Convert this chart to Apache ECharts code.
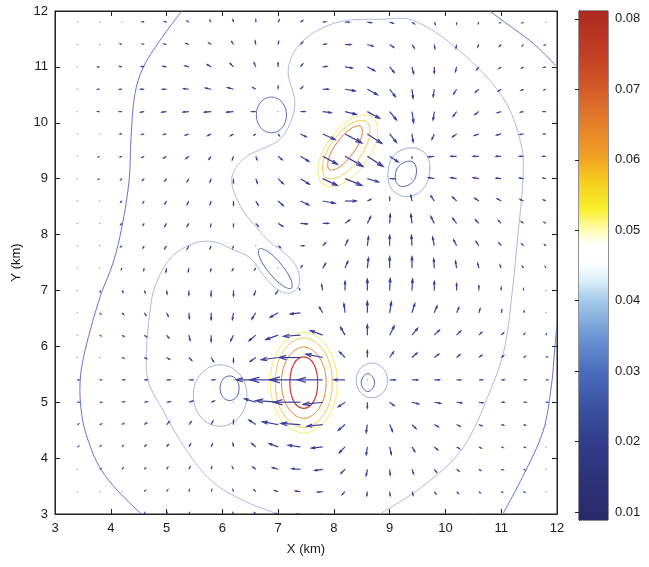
<!DOCTYPE html>
<html><head><meta charset="utf-8">
<script src="https://cdn.jsdelivr.net/npm/echarts@6/dist/echarts.min.js"></script>
<style>html,body{margin:0;padding:0;background:#fff}#c{width:649px;height:567px}</style>
</head><body><div id="c"></div>
<script>
// ---------- data ----------
const xTicks = [3,4,5,6,7,8,9,10,11,12];
const yTicks = [3,4,5,6,7,8,9,10,11,12];
const cbTicks = [0.01,0.02,0.03,0.04,0.05,0.06,0.07,0.08];
const cbMin = 0.0089, cbMax = 0.0811;
const cmapValues = [0.0089,0.015,0.02,0.025,0.03,0.035,0.04,0.043,0.0455,0.048,0.0505,0.053,0.057,0.06,0.065,0.07,0.075,0.0811];
const cmapColors = ['#29296a','#2c3379','#323e8b','#3c52a2','#4b6dbd','#6d95d3','#a3c9ea','#def0f9','#ffffff','#ffffff','#fffb9e','#f9ef2a','#f6cd1f','#f0a522','#e5802a','#d45a28','#c23e24','#ad2920'];

const xCols = [3.4,3.8,4.2,4.6,5.0,5.4,5.8,6.2,6.6,7.0,7.4,7.8,8.2,8.6,9.0,9.4,9.8,10.2,10.6,11.0,11.4,11.8];
const yRows = [11.8,11.4,11.0,10.6,10.2,9.8,9.4,9.0,8.6,8.2,7.8,7.4,7.0,6.6,6.2,5.8,5.4,5.0,4.6,4.2,3.8,3.4,3.0];
const U = [
[-0.02,-0.02,-0.02,-0.03,-0.03,-0.03,-0.02,-0.01,0,0.02,0.04,0.05,0.07,0.07,0.06,0.04,0.02,0,-0.01,-0.02,-0.02,-0.02],
[-0.02,-0.02,-0.03,-0.03,-0.04,-0.05,-0.04,-0.03,-0.01,0.01,0.04,0.06,0.1,0.1,0.07,0.04,0.01,-0.01,-0.02,-0.03,-0.02,-0.02],
[-0.02,-0.03,-0.04,-0.05,-0.06,-0.07,-0.07,-0.06,-0.03,0.0,0.04,0.07,0.13,0.13,0.08,0.03,0,-0.02,-0.04,-0.04,-0.03,-0.03],
[-0.02,-0.03,-0.04,-0.06,-0.07,-0.09,-0.1,-0.1,-0.05,0.0,0.04,0.1,0.18,0.18,0.1,0.02,-0.02,-0.05,-0.06,-0.05,-0.04,-0.03],
[-0.02,-0.03,-0.04,-0.06,-0.08,-0.1,-0.12,-0.12,-0.07,0.0,0.08,0.15,0.2,0.22,0.12,0.03,-0.02,-0.06,-0.07,-0.07,-0.05,-0.04],
[-0.02,-0.02,-0.03,-0.04,-0.05,-0.06,-0.06,-0.05,-0.03,0.02,0.1,0.22,0.3,0.26,0.12,0.02,-0.04,-0.07,-0.08,-0.08,-0.06,-0.04],
[-0.02,-0.02,-0.03,-0.04,-0.05,-0.05,-0.04,-0.02,0.02,0.07,0.15,0.26,0.32,0.28,0.15,0.0,-0.1,-0.1,-0.1,-0.09,-0.07,-0.05],
[-0.01,-0.02,-0.02,-0.03,-0.03,-0.03,-0.02,0.0,0.03,0.09,0.16,0.26,0.3,0.2,0.08,0.0,-0.1,-0.1,-0.1,-0.09,-0.07,-0.05],
[-0.01,-0.01,-0.02,-0.02,-0.03,-0.03,-0.02,0.0,0.04,0.09,0.15,0.22,0.2,0.06,0.0,-0.02,-0.06,-0.07,-0.07,-0.07,-0.06,-0.04],
[-0.01,-0.01,-0.02,-0.02,-0.03,-0.03,-0.01,0.0,0.04,0.08,0.12,0.1,0.08,0.06,0.01,-0.02,-0.06,-0.07,-0.06,-0.05,-0.04,-0.03],
[-0.01,-0.01,-0.02,-0.02,-0.03,-0.03,-0.02,-0.01,0.0,0.04,0.06,0.05,0.05,0.02,0.0,-0.01,-0.03,-0.05,-0.05,-0.04,-0.03,-0.02],
[-0.01,-0.01,-0.01,-0.01,-0.01,-0.01,-0.01,-0.02,-0.02,0,0.03,0.05,0.05,0.02,0,0,-0.01,-0.02,-0.02,-0.02,-0.02,-0.01],
[0.01,0.01,0.02,0.02,0.01,0,0,0,-0.03,-0.04,-0.02,-0.02,0,0,0.01,0.01,0,0,0,0,0,0],
[0.01,0.02,0.03,0.03,0.03,0.01,0,-0.02,-0.07,-0.14,-0.18,-0.06,-0.02,0,0.03,0.05,0.05,0.04,0.02,0.01,0.01,0],
[0.01,0.02,0.03,0.04,0.04,0.02,0,-0.05,-0.12,-0.22,-0.3,-0.22,-0.08,0,0.08,0.1,0.09,0.07,0.05,0.04,0.02,0.01],
[0.02,0.02,0.03,0.04,0.05,0.05,0.04,0,-0.1,-0.3,-0.38,-0.3,-0.1,0,0.07,0.09,0.08,0.06,0.05,0.04,0.03,0.02],
[0.03,0.03,0.04,0.05,0.06,0.07,0.06,0,-0.35,-0.5,-0.55,-0.45,-0.2,0,0.1,0.1,0.09,0.07,0.06,0.05,0.04,0.03],
[0.03,0.03,0.04,0.05,0.06,0.07,0.05,0,-0.2,-0.4,-0.48,-0.35,-0.12,0,0.08,0.12,0.11,0.09,0.07,0.05,0.04,0.03],
[0.02,0.03,0.03,0.04,0.05,0.04,0.03,0,-0.12,-0.28,-0.35,-0.28,-0.12,-0.02,0.05,0.07,0.07,0.06,0.05,0.04,0.03,0.02],
[0.02,0.02,0.02,0.03,0.03,0.03,0.02,-0.01,-0.07,-0.16,-0.22,-0.2,-0.1,-0.02,0.03,0.05,0.06,0.05,0.04,0.03,0.03,0.02],
[0.01,0.02,0.02,0.02,0.02,0.02,0.01,-0.02,-0.05,-0.1,-0.15,-0.14,-0.07,-0.02,0.01,0.03,0.04,0.04,0.03,0.03,0.02,0.02],
[0.01,0.01,0.01,0.02,0.02,0.01,0.01,-0.01,-0.03,-0.06,-0.09,-0.09,-0.05,-0.01,0.01,0.02,0.03,0.03,0.02,0.02,0.02,0.01],
[0.01,0.01,0.01,0.01,0.01,0.01,0,-0.01,-0.02,-0.04,-0.06,-0.06,-0.03,-0.01,0,0.01,0.02,0.02,0.02,0.01,0.01,0.01]
];
const V = [
[0,0,0,0.01,0.01,0.02,0.03,0.04,0.04,0.04,0.03,0.01,0,-0.01,-0.02,-0.03,-0.04,-0.03,-0.02,-0.01,-0.01,0],
[0,0,0.01,0.01,0.01,0.02,0.03,0.05,0.06,0.05,0.04,0.01,0,-0.03,-0.05,-0.06,-0.07,-0.06,-0.04,-0.03,-0.02,-0.01],
[0,0,0.01,0.01,0.01,0.02,0.04,0.06,0.07,0.07,0.05,0.01,-0.02,-0.07,-0.1,-0.12,-0.11,-0.08,-0.05,-0.03,-0.02,-0.01],
[0,0,0,0,0,0.01,0.02,0.03,0.03,0.05,0.04,0,-0.03,-0.1,-0.13,-0.16,-0.13,-0.08,-0.05,-0.03,-0.02,-0.01],
[0,0,0,-0.01,-0.01,-0.01,-0.01,-0.01,0,0,0,-0.02,-0.05,-0.12,-0.15,-0.2,-0.15,-0.08,-0.05,-0.02,-0.01,0],
[0,0,0,-0.01,-0.01,-0.02,-0.03,-0.03,-0.02,-0.03,-0.05,-0.1,-0.16,-0.17,-0.15,-0.14,-0.09,-0.05,-0.03,-0.02,-0.01,0],
[0,-0.01,-0.01,-0.02,-0.03,-0.04,-0.05,-0.06,-0.06,-0.06,-0.09,-0.14,-0.18,-0.18,-0.1,-0.03,-0.01,0,0,0,0,0],
[-0.01,-0.01,-0.02,-0.03,-0.04,-0.05,-0.06,-0.07,-0.08,-0.09,-0.1,-0.12,-0.12,-0.06,0.0,0.0,0.02,0.02,0.02,0.01,0.01,0.01],
[-0.01,-0.01,-0.02,-0.03,-0.05,-0.06,-0.06,-0.07,-0.07,-0.08,-0.07,-0.04,0.0,0.03,0.06,0.1,0.09,0.07,0.05,0.04,0.03,0.02],
[-0.01,-0.01,-0.02,-0.03,-0.05,-0.05,-0.05,-0.05,-0.05,-0.05,-0.01,0,0.06,0.12,0.16,0.16,0.12,0.09,0.06,0.05,0.03,0.02],
[-0.01,-0.01,-0.02,-0.04,-0.05,-0.06,-0.05,-0.04,-0.02,-0.03,0,0.05,0.1,0.16,0.18,0.18,0.15,0.1,0.07,0.05,0.03,0.02],
[-0.01,-0.01,-0.02,-0.04,-0.07,-0.06,-0.05,-0.04,-0.03,0,0.04,0.08,0.12,0.18,0.2,0.2,0.16,0.12,0.08,0.05,0.03,0.02],
[-0.01,-0.02,-0.03,-0.04,-0.06,-0.08,-0.1,-0.1,-0.08,-0.06,0.03,0.1,0.16,0.2,0.21,0.2,0.16,0.12,0.08,0.05,0.03,0.02],
[-0.01,-0.02,-0.03,-0.04,-0.06,-0.1,-0.12,-0.12,-0.11,-0.08,-0.02,0.1,0.16,0.2,0.19,0.16,0.12,0.09,0.07,0.05,0.03,0.02],
[-0.01,-0.01,-0.02,-0.03,-0.05,-0.09,-0.11,-0.1,-0.1,-0.08,-0.02,0.08,0.14,0.18,0.16,0.12,0.09,0.07,0.05,0.04,0.03,0.02],
[0,0,-0.01,-0.02,-0.03,-0.05,-0.07,-0.08,-0.07,-0.04,0,0.06,0.1,0.12,0.1,0.08,0.06,0.05,0.04,0.03,0.02,0.01],
[0,0,0,0,0,0,0,0,0,0,0,0,0,0,0,0,0,0,0,0,0,0],
[0,0,0.01,0.01,0.01,0.02,0.02,0,0.06,0.03,0,-0.04,-0.08,-0.1,-0.06,-0.03,-0.02,-0.01,-0.01,0,0,0],
[0.01,0.01,0.02,0.03,0.05,0.05,0.06,0.07,0.08,0.05,0.02,-0.03,-0.1,-0.14,-0.12,-0.07,-0.04,-0.03,-0.02,-0.01,-0.01,0],
[0.01,0.02,0.02,0.03,0.04,0.05,0.05,0.06,0.06,0.06,0.03,-0.02,-0.1,-0.14,-0.13,-0.08,-0.05,-0.03,-0.02,-0.01,-0.01,0],
[0.01,0.01,0.02,0.02,0.03,0.04,0.04,0.04,0.04,0.03,0.01,-0.02,-0.07,-0.11,-0.1,-0.08,-0.05,-0.03,-0.02,-0.01,-0.01,0],
[0.01,0.01,0.01,0.02,0.03,0.03,0.03,0.03,0.03,0.02,0.01,-0.01,-0.05,-0.07,-0.07,-0.06,-0.04,-0.03,-0.02,-0.01,-0.01,0],
[0,0.01,0.01,0.02,0.02,0.02,0.02,0.02,0.02,0.01,0,-0.01,-0.03,-0.05,-0.05,-0.04,-0.03,-0.02,-0.01,-0.01,0,0]
];

// contour lines (km coordinates)
const outerLeft = [[5.27,12],[4.88,11.47],[4.58,10.99],[4.43,10.5],[4.36,9.68],[4.33,8.98],[4.2,8.14],[4.04,7.49],[3.81,6.89],[3.54,5.93],[3.45,5.38],[3.48,4.77],[3.6,4.3],[3.81,3.82],[4.13,3.41],[4.55,3.0]];
const outerRight = [[11.03,3.0],[11.4,3.7],[11.75,4.48],[11.9,5.3],[11.96,5.97],[12.0,6.4]];
const outerTopRight = [[10.79,12],[11.2,11.7],[11.6,11.4],[11.98,11.02]];
const innerPath = [[7.0,3.0],[6.4,3.23],[5.81,3.59],[5.33,4.18],[4.91,4.9],[4.67,5.38],[4.64,5.93],[4.7,6.6],[4.79,7.07],[5.09,7.6],[5.51,7.85],[5.85,7.87],[6.17,7.74],[6.5,7.58],[6.74,7.27],[6.97,7.03],[7.2,6.95],[7.37,7.08],[7.35,7.38],[7.13,7.66],[6.86,7.86],[6.62,8.12],[6.33,8.5],[6.17,9.0],[6.4,9.37],[7.0,9.68],[7.22,10.0],[7.3,10.4],[7.18,10.87],[7.25,11.2],[7.45,11.47],[7.8,11.7],[8.22,11.83],[8.8,11.85],[9.42,11.83],[10.25,11.29],[11.03,10.45],[11.36,9.6],[11.39,9.0],[11.3,8.0],[11.2,7.0],[11.06,5.97],[10.8,5.2],[10.31,4.18],[9.6,3.5],[8.82,3.0]];
const loopA = [[7.15,10.14],[7.07,10.37],[6.88,10.46],[6.69,10.37],[6.61,10.14],[6.69,9.91],[6.88,9.82],[7.07,9.91]];
const loopBIn = [[9.48,9.12],[9.44,9.28],[9.32,9.31],[9.16,9.22],[9.1,9.04],[9.14,8.9],[9.26,8.86],[9.42,8.95]];
const loopBOut = [[9.72,9.15],[9.64,9.45],[9.38,9.55],[9.08,9.42],[8.97,9.1],[9.05,8.8],[9.32,8.68],[9.6,8.82]];
const loopCIn = [[6.66,7.74],[6.816,7.697],[7.05,7.473],[7.226,7.201],[7.24,7.04],[7.084,7.083],[6.85,7.307],[6.674,7.579]];
const loopDIn = [[6.3,5.25],[6.25,5.41],[6.13,5.47],[6.01,5.41],[5.96,5.25],[6.01,5.09],[6.13,5.03],[6.25,5.09]];
const loopDOut = [[6.44,5.12],[6.3,5.51],[5.96,5.67],[5.62,5.51],[5.48,5.12],[5.62,4.73],[5.96,4.57],[6.3,4.73]];
const loopEIn = [[8.73,5.35],[8.69,5.46],[8.61,5.51],[8.53,5.46],[8.49,5.35],[8.53,5.24],[8.61,5.19],[8.69,5.24]];
const loopEOut = [[8.96,5.39],[8.88,5.61],[8.68,5.7],[8.48,5.61],[8.4,5.39],[8.48,5.17],[8.68,5.08],[8.88,5.17]];
const lowRed = [[7.71,5.35],[7.64,5.68],[7.46,5.81],[7.28,5.68],[7.21,5.35],[7.28,5.02],[7.46,4.89],[7.64,5.02]];
const lowOrange = [[7.86,5.35],[7.74,5.8],[7.46,5.99],[7.18,5.8],[7.06,5.35],[7.18,4.9],[7.46,4.71],[7.74,4.9]];
const lowGold = [[7.97,5.35],[7.82,5.92],[7.46,6.15],[7.1,5.92],[6.95,5.35],[7.1,4.78],[7.46,4.55],[7.82,4.78]];
const lowYellow = [[8.06,5.35],[7.88,5.99],[7.46,6.25],[7.04,5.99],[6.86,5.35],[7.04,4.71],[7.46,4.45],[7.88,4.71]];
const upOrange = [[8.483,9.937],[8.303,9.895],[8.063,9.65],[7.903,9.347],[7.917,9.163],[8.097,9.205],[8.337,9.45],[8.497,9.753]];
const upGold = [[8.586,10.02],[8.318,9.991],[7.994,9.685],[7.802,9.283],[7.854,9.02],[8.122,9.049],[8.446,9.355],[8.638,9.757]];
const upYellow = [[8.693,10.105],[8.346,10.087],[7.943,9.724],[7.72,9.231],[7.807,8.895],[8.154,8.913],[8.557,9.276],[8.78,9.769]];

// ---------- chart ----------
const chart = echarts.init(document.getElementById('c'), null, {renderer:'canvas'});
const FONT = "'Liberation Sans', Arial, Helvetica, sans-serif";
const TXT = '#1a1a1a';

const arrowData = [];
yRows.forEach((y, r) => xCols.forEach((x, c) => arrowData.push([x, y, U[r][c], V[r][c]])));

function arrowItem(params, api) {
  const x = api.value(0), y = api.value(1), u = api.value(2), v = api.value(3);
  const p0 = api.coord([x, y]);
  const p1 = api.coord([x + u, y + v]);
  const dx = p1[0] - p0[0], dy = p1[1] - p0[1];
  const len = Math.hypot(dx, dy);
  const col = '#3b3e9c';
  if (len < 1.2) {
    return {type:'circle', shape:{cx:p0[0], cy:p0[1], r:0.7}, style:{fill:'#8d90c8'}};
  }
  const a = 0.33, b = 0.3;
  const h1 = [p1[0] - a*(dx + b*dy), p1[1] - a*(dy - b*dx)];
  const h2 = [p1[0] - a*(dx - b*dy), p1[1] - a*(dy + b*dx)];
  return {type:'group', children:[
    {type:'polyline', shape:{points:[p0, p1]}, style:{stroke:col, lineWidth:1.2, fill:null}},
    {type:'polyline', shape:{points:[h1, p1, h2]}, style:{stroke:col, lineWidth:1.2, fill:null}}
  ]};
}

function contour(pts, color, closed, width) {
  return {
    type:'custom', xAxisIndex:0, yAxisIndex:0, clip:true, silent:true, z:2,
    data:[pts[0]],
    renderItem(params, api) {
      return {type: closed ? 'polygon' : 'polyline',
        shape:{points: pts.map(p => api.coord(p)), smooth: closed ? 0.38 : 0.35},
        style:{stroke:color, fill:'none', lineWidth: width || 1}};
    }
  };
}

const contourSeries = [
  contour(outerLeft, '#6e70d6', false, 1),
  contour(outerRight, '#6e70d6', false, 1),
  contour(outerTopRight, '#6e70d6', false, 1),
  contour(innerPath, '#b3b7e0', false, 1),
  contour(loopA, '#6a6cc0', true),
  contour(loopBIn, '#5a5db4', true),
  contour(loopBOut, '#a4a8da', true),
  contour(loopCIn, '#6265b8', true),
  contour(loopDIn, '#5a5db4', true),
  contour(loopDOut, '#a8b0dc', true),
  contour(loopEIn, '#5a5db4', true),
  contour(loopEOut, '#a8acd8', true),
  contour(lowYellow, '#f7ec6a', true),
  contour(lowGold, '#f3c54a', true),
  contour(lowOrange, '#e8862e', true),
  contour(lowRed, '#d2352a', true, 1.2),
  contour(upYellow, '#f6ea70', true),
  contour(upGold, '#f3ca52', true),
  contour(upOrange, '#e47c34', true)
];

function axisCommon(pos, labels) {
  return {
    type:'value', gridIndex:0, min:3, max:12, interval:1, position:pos,
    axisLine:{show:true, lineStyle:{color:'#222', width:1}},
    axisTick:{show:true, inside:true, length:5, lineStyle:{color:'#222'}},
    axisLabel:{show:labels, color:TXT, fontFamily:FONT, fontSize:13},
    splitLine:{show:false}
  };
}

const stops = cmapValues.map((v, i) => ({offset:(v - cbMin)/(cbMax - cbMin), color:cmapColors[i]}));

const option = {
  backgroundColor:'#ffffff',
  animation:false,
  grid:[
    {left:55, top:11, width:502, height:503, show:true, borderColor:'#222', borderWidth:1, backgroundColor:'#fff'},
    {left:579, top:11, width:29, height:509, show:true, borderColor:'#222', borderWidth:1}
  ],
  xAxis:[
    Object.assign(axisCommon('bottom', true), {name:'X (km)', nameLocation:'middle', nameGap:29,
      nameTextStyle:{color:TXT, fontFamily:FONT, fontSize:13}, axisLabel:{color:TXT, fontFamily:FONT, fontSize:13, margin:8}}),
    axisCommon('top', false),
    {type:'value', gridIndex:1, min:0, max:1, show:false}
  ],
  yAxis:[
    Object.assign(axisCommon('left', true), {name:'Y (km)', nameLocation:'middle', nameGap:30,
      nameTextStyle:{color:TXT, fontFamily:FONT, fontSize:13}, axisLabel:{color:TXT, fontFamily:FONT, fontSize:13, margin:7}}),
    axisCommon('right', false),
    {type:'value', gridIndex:1, min:cbMin, max:cbMax, position:'right',
      axisLine:{show:true, lineStyle:{color:'#222'}},
      axisTick:{show:true, inside:true, length:4, customValues:cbTicks, lineStyle:{color:'#222'}},
      axisLabel:{show:true, customValues:cbTicks, formatter:v => Number(v).toFixed(2), color:TXT, fontFamily:FONT, fontSize:13, margin:7},
      splitLine:{show:false}},
    {type:'value', gridIndex:1, min:cbMin, max:cbMax, position:'left',
      axisLine:{show:true, lineStyle:{color:'#222'}},
      axisTick:{show:true, inside:true, length:4, customValues:cbTicks, lineStyle:{color:'#222'}},
      axisLabel:{show:false}, splitLine:{show:false}}
  ],
  series:[
    {
      type:'custom', xAxisIndex:2, yAxisIndex:2, silent:true, z:1,
      data:[[0, cbMin, 1, cbMax]],
      renderItem(params, api) {
        const tl = api.coord([api.value(0), api.value(3)]);
        const br = api.coord([api.value(2), api.value(1)]);
        return {type:'rect', shape:{x:tl[0], y:tl[1], width:br[0]-tl[0], height:br[1]-tl[1]},
          style:{fill:new echarts.graphic.LinearGradient(0,1,0,0, stops)}};
      }
    },
    ...contourSeries,
    {
      type:'custom', xAxisIndex:0, yAxisIndex:0, clip:true, silent:true, z:3,
      data:arrowData, renderItem:arrowItem
    }
  ]
};
chart.setOption(option);
</script></body></html>
